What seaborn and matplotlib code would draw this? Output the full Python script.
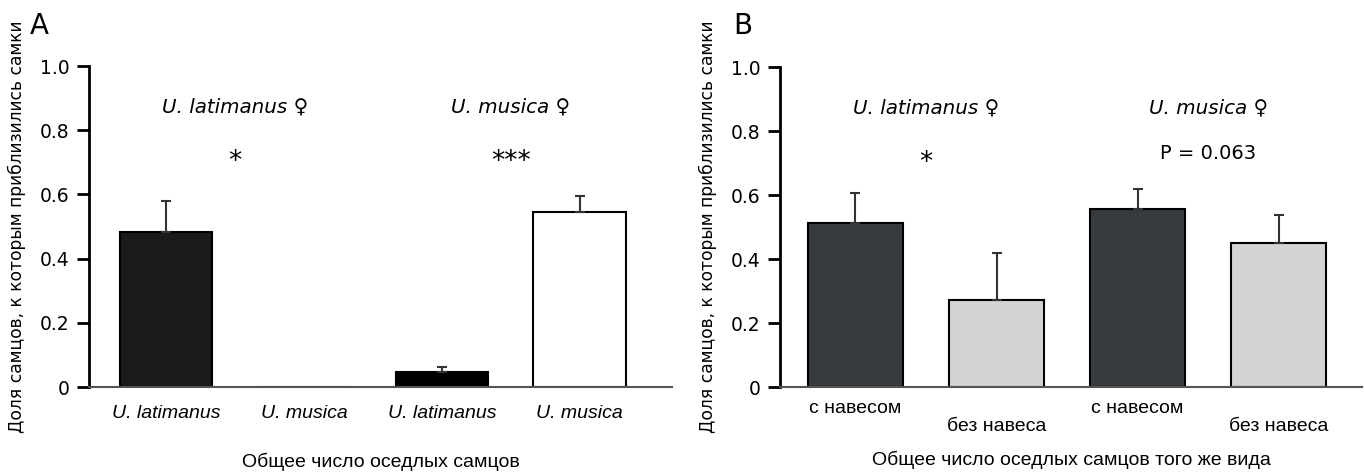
import numpy as np
import pandas as pd
import matplotlib
matplotlib.use("Agg")
import matplotlib.pyplot as plt
import seaborn as sns

sns.set_style("white")
plt.rcParams["font.family"] = ["DejaVu Sans"]
plt.rcParams["text.color"] = "black"
plt.rcParams["axes.labelcolor"] = "black"
plt.rcParams["xtick.color"] = "black"
plt.rcParams["ytick.color"] = "black"

# panel A: females of each species choosing among all resident males
a_labels = ["U. latimanus", "U. musica", "U. latimanus", "U. musica"]
a_values = [0.483, 0.0, 0.046, 0.546]
a_errors = [0.095, 0.0, 0.017, 0.050]
a_colors = ["#1a1a1a", "#1a1a1a", "#000000", "#ffffff"]

# panel B: conspecific males with / without a hood
b_labels = ["с навесом", "без навеса", "с навесом", "без навеса"]
b_values = [0.511, 0.271, 0.556, 0.451]
b_errors = [0.096, 0.147, 0.063, 0.086]
b_colors = ["#373b3e", "#d1d4d6", "#373b3e", "#d1d4d6"]

groups = ["U. latimanus ♀", "U. musica ♀"]
a_signif = ["*", "***"]
b_signif = ["*", "P = 0.063"]

ylabel = "Доля самцов, к которым приблизились самки"
a_xlabel = "Общее число оседлых самцов"
b_xlabel = "Общее число оседлых самцов того же вида"

W, H = 1364, 473
fig = plt.figure(figsize=(W / 100, H / 100), dpi=100)


def draw_panel(ax, labels, values, errors, colors, signif, xlabel, xlim, italic):
    df = pd.DataFrame({"pos": [str(i) for i in range(len(values))], "val": values})
    sns.barplot(data=df, x="pos", y="val", hue="pos",
                palette=dict(zip(df["pos"], colors)), width=0.67,
                edgecolor="black", linewidth=1.5, legend=False, ax=ax)
    idx = [i for i, e in enumerate(errors) if e > 0]
    ax.errorbar(idx, [values[i] for i in idx],
                yerr=[[0] * len(idx), [errors[i] for i in idx]],
                fmt="none", ecolor="#333333", elinewidth=1.5, capsize=3.5, capthick=1.5)
    ax.set_xlim(*xlim)
    ax.set_ylim(0, 1.0)
    ax.set_yticks([0, 0.2, 0.4, 0.6, 0.8, 1.0])
    ax.set_yticklabels(["0", "0.2", "0.4", "0.6", "0.8", "1.0"], fontsize=13.5)
    ax.tick_params(axis="y", length=9, width=2, pad=5, color="black", direction="out", left=True)
    ax.tick_params(axis="x", length=0)
    ax.set_xticks(range(len(labels)))
    ax.set_xticklabels(labels, fontsize=14, family="Liberation Sans",
                       style="italic" if italic else "normal")
    for sp in ["top", "right"]:
        ax.spines[sp].set_visible(False)
    ax.spines["left"].set_linewidth(2)
    ax.spines["left"].set_color("black")
    ax.spines["bottom"].set_linewidth(1.5)
    ax.spines["bottom"].set_color("#555555")
    ax.set_ylabel(ylabel, fontsize=12.3, labelpad=10)
    ax.set_xlabel(xlabel, fontsize=14, family="Liberation Sans")
    for k, g in enumerate(groups):
        ax.text(0.5 + 2 * k, 0.872, g, style="italic", fontsize=14.3,
                ha="center", va="center")
        if signif[k].startswith("*"):
            ax.text(0.5 + 2 * k, 0.70, signif[k], fontsize=19, ha="center", va="center")
        else:
            ax.text(0.5 + 2 * k, 0.73, signif[k], fontsize=14, ha="center", va="center")
    return ax


axA = fig.add_axes([89 / W, 1 - 387 / H, (672 - 89) / W, (387 - 66) / H])
draw_panel(axA, a_labels, a_values, a_errors, a_colors, a_signif, a_xlabel,
           (-0.56, 3.67), True)
axA.tick_params(axis="x", pad=13)
axA.xaxis.labelpad = 22

axB = fig.add_axes([780 / W, 1 - 387 / H, (1362 - 780) / W, (387 - 67) / H])
draw_panel(axB, b_labels, b_values, b_errors, b_colors, b_signif, b_xlabel,
           (-0.535, 3.59), False)
axB.tick_params(axis="x", pad=9.5)
for t in axB.xaxis.get_major_ticks()[1::2]:
    t.set_pad(9.5 + 13)
axB.xaxis.labelpad = 11

fig.text(30 / W, 1 - 26 / H, "A", fontsize=20, va="center", ha="left")
fig.text(733 / W, 1 - 26 / H, "B", fontsize=20, va="center", ha="left")

fig.savefig("out.png", dpi=100)
